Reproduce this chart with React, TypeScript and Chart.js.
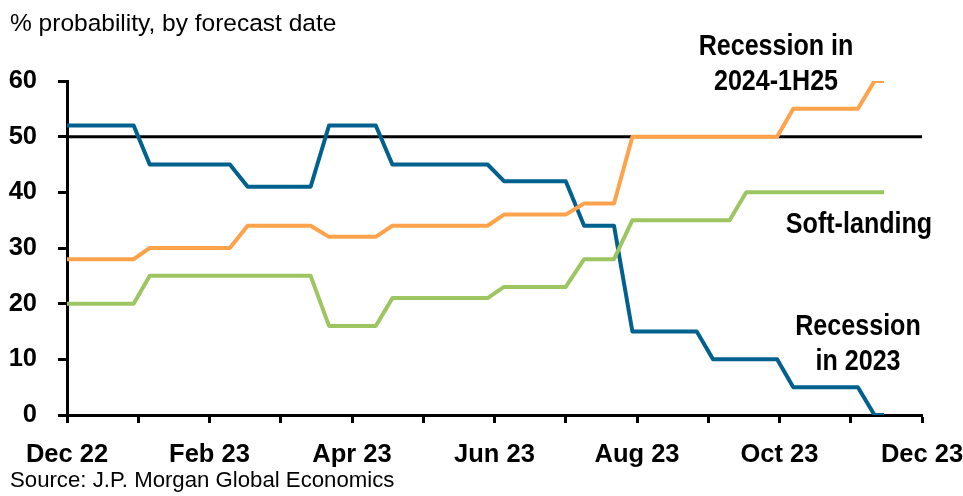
import React, { useEffect, useRef } from "react";
import { Chart, registerables } from "chart.js";

Chart.register(...registerables);

// Forecast dates (x) and probabilities (%)
const forecastDates = [
  "2022-12-01", "2022-12-30", "2023-01-06", "2023-02-09", "2023-02-16",
  "2023-03-14", "2023-03-22", "2023-04-11", "2023-04-18", "2023-05-29",
  "2023-06-05", "2023-07-01", "2023-07-09", "2023-07-22", "2023-07-30",
  "2023-08-27", "2023-09-03", "2023-09-10", "2023-09-17", "2023-09-30",
  "2023-10-07", "2023-11-04", "2023-11-11", "2023-11-15",
];
const recessionIn2023 = [52, 52, 45, 45, 41, 41, 52, 52, 45, 45, 42, 42, 34, 34, 15, 15, 10, 10, 10, 10, 5, 5, 0, 0];
const recession2024To1H25 = [28, 28, 30, 30, 34, 34, 32, 32, 34, 34, 36, 36, 38, 38, 50, 50, 50, 50, 50, 50, 55, 55, 60, 60];
const softLanding = [20, 20, 25, 25, 25, 25, 16, 16, 21, 21, 23, 23, 28, 28, 35, 35, 35, 35, 40, 40, 40, 40, 40, 40];
const thresholdLevel = 50;
const xTickLabels = ["Dec 22", "Feb 23", "Apr 23", "Jun 23", "Aug 23", "Oct 23", "Dec 23"];
const axisMonths = 12;

const BLUE = "#00608e";
const ORANGE = "#ffa24c";
const GREEN = "#9dc662";

const BOLD_FAMILY = "'Liberation Sans', Arial, sans-serif";
const REG_FAMILY = "'Liberation Sans', Arial, sans-serif";

function monthPos(iso: string): number {
  const [y, m, d] = iso.split("-").map(Number);
  const idx = (y - 2022) * 12 + (m - 12);
  const dim = new Date(y, m, 0).getDate();
  return idx + (d - 1) / dim;
}

function toPoints(values: number[]) {
  return forecastDates.map((d, i) => ({ x: monthPos(d), y: values[i] }));
}

const annotations = [
  { lines: ["Recession in", "2024-1H25"], x: 776, y: 47, lh: 35 },
  { lines: ["Soft-landing"], x: 859, y: 225, lh: 35 },
  { lines: ["Recession", "in 2023"], x: 858, y: 327, lh: 35 },
];

const textPlugin = {
  id: "texts",
  afterDraw(chart: any) {
    const ctx = chart.ctx;
    ctx.save();
    ctx.fillStyle = "#000";
    ctx.textBaseline = "middle";
    ctx.textAlign = "center";
    ctx.font = `bold 29px ${BOLD_FAMILY}`;
    for (const a of annotations) {
      a.lines.forEach((l, i) => {
        ctx.save();
        ctx.translate(a.x, a.y + i * a.lh);
        ctx.scale(0.865, 1);
        ctx.fillText(l, 0, 0);
        ctx.restore();
      });
    }
    ctx.textAlign = "left";
    ctx.font = `24.5px ${REG_FAMILY}`;
    ctx.fillText("% probability, by forecast date", 10, 24);
    ctx.font = `22.2px ${REG_FAMILY}`;
    ctx.fillText("Source: J.P. Morgan Global Economics", 10, 481);
    ctx.restore();
  },
};

export default function App() {
  const ref = useRef<HTMLCanvasElement | null>(null);
  useEffect(() => {
    if (!ref.current) return;
    const chart = new Chart(ref.current, {
      type: "line",
      data: {
        datasets: [
          {
            label: "Soft-landing",
            data: toPoints(softLanding),
            borderColor: GREEN,
            borderWidth: 4,
            pointRadius: 0,
            tension: 0,
          },
          {
            label: "Recession in 2024-1H25",
            data: toPoints(recession2024To1H25),
            borderColor: ORANGE,
            borderWidth: 4,
            pointRadius: 0,
            tension: 0,
          },
          {
            label: "Recession in 2023",
            data: toPoints(recessionIn2023),
            borderColor: BLUE,
            borderWidth: 4,
            pointRadius: 0,
            tension: 0,
          },
          {
            label: "50%",
            data: [
              { x: 0, y: thresholdLevel },
              { x: axisMonths, y: thresholdLevel },
            ],
            borderColor: "#000",
            borderWidth: 3,
            pointRadius: 0,
          },
        ],
      },
      options: {
        animation: false,
        responsive: false,
        layout: { padding: { left: 0, right: 41, top: 81, bottom: 0 } },
        plugins: { legend: { display: false }, tooltip: { enabled: false } },
        elements: { line: { borderJoinStyle: "round" } },
        scales: {
          x: {
            type: "linear",
            min: 0,
            max: axisMonths,
            afterFit: (s: any) => {
              s.height = 81;
              s.paddingLeft = 0;
              s.paddingRight = 0;
            },
            grid: {
              drawOnChartArea: false,
              drawTicks: true,
              tickLength: 8,
              tickWidth: 3,
              tickColor: "#000",
            },
            border: { display: true, color: "#000", width: 3 },
            ticks: {
              stepSize: 1,
              autoSkip: false,
              maxRotation: 0,
              padding: 17,
              color: "#000",
              font: { family: BOLD_FAMILY, size: 25.5, weight: "bold" },
              callback: (v: any) => {
                const n = Number(v);
                return n % 2 === 0 ? xTickLabels[n / 2] : "";
              },
            },
          },
          y: {
            min: 0,
            max: 60,
            afterFit: (s: any) => {
              s.width = 67;
              s.paddingTop = 0;
              s.paddingBottom = 0;
            },
            grid: {
              drawOnChartArea: false,
              drawTicks: true,
              tickLength: 9,
              tickWidth: 3,
              tickColor: "#000",
            },
            border: { display: true, color: "#000", width: 3 },
            ticks: {
              stepSize: 10,
              padding: 21,
              color: "#000",
              font: { family: BOLD_FAMILY, size: 25.5, weight: "bold" },
            },
          },
        },
      },
      plugins: [textPlugin],
    });
    return () => chart.destroy();
  }, []);
  return (
    <div style={{ position: "fixed", left: 0, top: 0, width: 963, height: 496, background: "#fff" }}>
      <canvas ref={ref} width={963} height={496} style={{ display: "block" }} />
    </div>
  );
}
